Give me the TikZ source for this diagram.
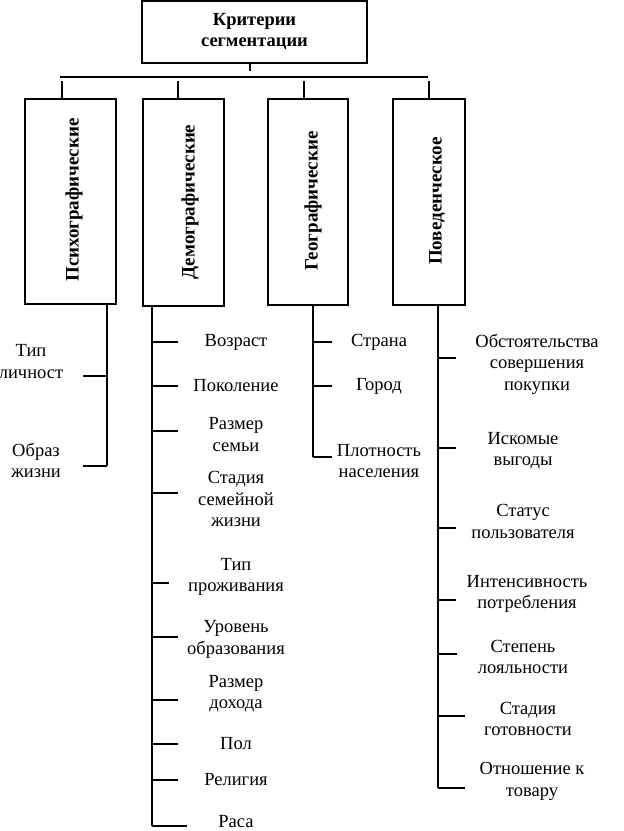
\documentclass[tikz,border=0pt]{standalone}
\usepackage{fontspec}
\setmainfont{Liberation Serif}
\begin{document}
\begin{tikzpicture}[x=1pt,y=-1pt,line width=1.3pt]
        \tikzstyle{root}=[draw,rectangle,line width=1.3pt,minimum width=225pt,minimum height=62pt,inner sep=0pt,align=center,font=\fontsize{18.5}{21}\selectfont\bfseries]
        \tikzstyle{group}=[draw,rectangle,line width=1.3pt,inner sep=0pt]
        \tikzstyle{grouptext}=[rotate=90,inner sep=0pt,font=\fontsize{19}{21}\selectfont\bfseries]
        \tikzstyle{item}=[inner sep=0pt,align=center,font=\fontsize{18.5}{21.5}\selectfont]
        \tikzstyle{edge}=[draw=black,line width=1.3pt]

        \useasboundingbox (0,0) rectangle (624,831);

       \begin{scope}

         \node [root] (root) at (254.5,32) {Критерии\\сегментации};

         \node [group,minimum width=91pt,minimum height=205pt] (psy) at (70.5,201.5) {};
         \node [group,minimum width=81pt,minimum height=207pt] (dem) at (183.5,202.5) {};
         \node [group,minimum width=80pt,minimum height=206pt] (geo) at (308,202) {};
         \node [group,minimum width=72pt,minimum height=206pt] (beh) at (429,202) {};
         \node [grouptext] (psyt) at (74,200) {Психографические};
         \node [grouptext] (demt) at (190,202) {Демографические};
         \node [grouptext] (geot) at (313,201) {Географические};
         \node [grouptext] (beht) at (437,201) {Поведенческое};

         \coordinate (j0) at (250,71);
         \coordinate (busl) at (60,77);
         \coordinate (busr) at (428,77);
         \path[edge] (root.south -| j0) -- (j0);
         \path[edge] (busl) -- (busr);
         \foreach \g/\x in {psy/62,dem/178,geo/304,beh/429}
           {\coordinate (s\g) at (\x,81);
            \path[edge] (s\g) -- (s\g |- \g.north);}

         \coordinate (tp) at (107,466);
         \coordinate (td) at (152,826);
         \coordinate (tg) at (313,457);
         \coordinate (tb) at (438,788);
         \path[edge] (tp |- psy.south) -- (tp);
         \path[edge] (td |- dem.south) -- (td);
         \path[edge] (tg |- geo.south) -- (tg);
         \path[edge] (tb |- beh.south) -- (tb);

         \foreach \n/\tx/\ty/\txt/\ky in {1/31/361.5/{Тип\\личност}/376,2/36/460.5/{Образ\\жизни}/466}
           {\node [item] (p\n) at (\tx,\ty) {\txt};
            \coordinate (pk\n) at (83,\ky);
            \path[edge] (tp |- pk\n) -- (pk\n);}

         \foreach \n/\ty/\txt/\ky/\kx in {1/342/Возраст/342/178,2/386/Поколение/386/178,3/434.5/{Размер\\семьи}/431/178,4/499/{Стадия\\семейной\\жизни}/493/178,5/577/{Тип\\проживания}/583/169,6/639.5/{Уровень\\образования}/637/178,7/693.5/{Размер\\дохода}/700/178,8/744/Пол/744/178,9/780/Религия/780/178,10/822/Раса/826/187}
           {\node [item] (d\n) at (236,\ty) {\txt};
            \coordinate (dk\n) at (\kx,\ky);
            \path[edge] (td |- dk\n) -- (dk\n);}

         \foreach \n/\ty/\txt/\ky in {1/342/Страна/342,2/386/Город/386,3/461/{Плотность\\населения}/457}
           {\node [item] (g\n) at (379,\ty) {\txt};
            \coordinate (gk\n) at (332,\ky);
            \path[edge] (tg |- gk\n) -- (gk\n);}

         \foreach \n/\tx/\ty/\txt/\ky/\kx in {1/537/364/{Обстоятельства\\совершения\\покупки}/358/456,2/523/450.5/{Искомые\\выгоды}/448/456,3/523/521.5/{Статус\\пользователя}/528/456,4/527/594/{Интенсивность\\потребления}/600/456,5/523/657/{Степень\\лояльности}/654/457,6/528/719/{Стадия\\готовности}/716/465,7/532/781.5/{Отношение к\\товару}/788/465}
           {\node [item] (b\n) at (\tx,\ty) {\txt};
            \coordinate (bk\n) at (\kx,\ky);
            \path[edge] (tb |- bk\n) -- (bk\n);}

        \end{scope}
      \end{tikzpicture}
\end{document}
